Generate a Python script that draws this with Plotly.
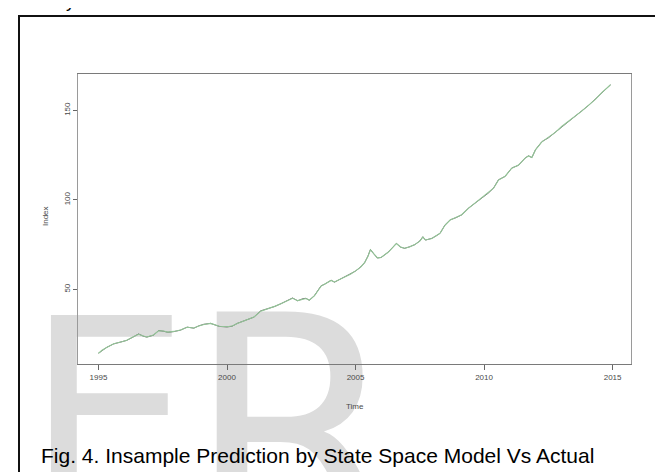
import plotly.graph_objects as go

# ---- data (decimal year, index value) ----
time_years = [
    1995.00, 1995.15, 1995.32, 1995.59, 1995.91, 1996.10, 1996.30, 1996.56, 1996.75, 1996.88,
    1997.14, 1997.34, 1997.53, 1997.70, 1997.93, 1998.19, 1998.45, 1998.71, 1998.90, 1999.10,
    1999.36, 1999.55, 1999.70, 2000.00, 2000.20, 2000.40, 2000.65, 2000.85, 2001.05, 2001.31,
    2001.50, 2001.64, 2001.85, 2002.10, 2002.35, 2002.55, 2002.75, 2002.95, 2003.07, 2003.20,
    2003.40, 2003.53, 2003.66, 2003.79, 2004.05, 2004.18, 2004.35, 2004.57, 2004.80, 2005.00,
    2005.20, 2005.35, 2005.48, 2005.58, 2005.70, 2005.85, 2006.00, 2006.27, 2006.45, 2006.59,
    2006.75, 2006.91, 2007.10, 2007.30, 2007.50, 2007.62, 2007.72, 2007.97, 2008.15, 2008.29,
    2008.48, 2008.68, 2008.90, 2009.13, 2009.39, 2009.65, 2009.90, 2010.17, 2010.37, 2010.56,
    2010.82, 2011.08, 2011.34, 2011.60, 2011.73, 2011.86, 2012.00, 2012.25, 2012.51, 2012.77,
    2013.03, 2013.29, 2013.55, 2013.81, 2014.07, 2014.33, 2014.59, 2014.92,
]
actual_index = [
    14.3, 16.0, 17.6, 19.5, 20.8, 21.5, 23.0, 25.1, 23.8, 23.3,
    24.4, 27.0, 26.6, 26.0, 26.4, 27.2, 28.9, 28.3, 29.6, 30.5,
    31.0, 30.2, 29.3, 29.0, 29.4, 31.0, 32.5, 33.6, 34.5, 38.0,
    38.8, 39.6, 40.4, 42.0, 43.8, 45.2, 43.6, 44.8, 45.0, 43.9,
    46.5, 49.0, 52.0, 52.8, 55.1, 54.0, 55.3, 56.8, 58.5, 60.2,
    62.5, 64.8, 68.5, 72.3, 70.0, 67.5, 67.8, 70.8, 73.5, 75.7,
    73.6, 72.9, 73.8, 74.9, 77.0, 79.4, 77.5, 78.5, 80.0, 81.3,
    86.0, 88.8, 90.0, 91.6, 95.3, 98.1, 100.8, 103.8, 106.6, 111.2,
    113.1, 117.8, 119.3, 123.4, 124.6, 123.6, 128.0, 132.5, 134.7, 137.8,
    141.0, 144.0, 146.9, 149.8, 152.8, 156.2, 159.9, 164.3,
]
predicted_index = [
    14.3, 16.1, 17.5, 19.6, 20.7, 21.6, 23.1, 24.9, 23.9, 23.4,
    24.5, 26.8, 26.7, 26.1, 26.5, 27.3, 28.8, 28.4, 29.5, 30.4,
    31.0, 30.3, 29.4, 29.1, 29.5, 30.9, 32.4, 33.5, 34.6, 37.8,
    38.9, 39.5, 40.5, 41.9, 43.7, 45.0, 43.7, 44.7, 44.9, 44.0,
    46.4, 49.1, 51.8, 52.9, 55.0, 54.1, 55.2, 56.9, 58.4, 60.3,
    62.4, 64.9, 68.3, 72.1, 70.1, 67.6, 67.9, 70.7, 73.4, 75.6,
    73.7, 73.0, 73.7, 75.0, 76.9, 79.2, 77.6, 78.4, 80.1, 81.4,
    85.8, 88.7, 90.1, 91.7, 95.2, 98.2, 100.7, 103.9, 106.5, 111.0,
    113.2, 117.7, 119.4, 123.3, 124.5, 123.7, 127.9, 132.4, 134.8, 137.7,
    141.1, 143.9, 147.0, 149.7, 152.9, 156.1, 160.0, 164.3,
]
x_tick_values = [1995, 2000, 2005, 2010, 2015]
x_tick_labels = ["1995", "2000", "2005", "2010", "2015"]
y_tick_values = [50, 100, 150]
y_tick_labels = ["50", "100", "150"]

caption_text = "Fig. 4. Insample Prediction by State Space Model Vs Actual"
watermark_letters = ["E", "R"]

W, H = 663, 472

def px_x(p):
    return p / W

def px_y(p):
    return (H - p) / H

# R-style 4% padding of the axis ranges
def padded(vals):
    lo, hi = min(vals), max(vals)
    pad = 0.04 * (hi - lo)
    return [lo - pad, hi + pad]

all_y = actual_index + predicted_index

fig = go.Figure()

# background watermark on a full-page axis (drawn first, under the chart)
fig.add_trace(go.Scatter(
    x=[100], y=[432.5], mode="text", text=[watermark_letters[0]],
    textposition="middle center",
    textfont=dict(family="DejaVu Sans", size=262, color="#dcdcdc"),
    xaxis="x", yaxis="y", hoverinfo="skip", showlegend=False, cliponaxis=True,
))
fig.add_trace(go.Scatter(
    x=[286], y=[452], mode="text", text=[watermark_letters[1]],
    textposition="middle center",
    textfont=dict(family="DejaVu Sans", size=310, color="#dcdcdc"),
    xaxis="x", yaxis="y", hoverinfo="skip", showlegend=False, cliponaxis=True,
))

fig.add_trace(go.Scatter(
    x=time_years, y=actual_index, mode="lines", name="Actual",
    line=dict(color="#3a3a3a", width=0.7), xaxis="x2", yaxis="y2", showlegend=False,
))
fig.add_trace(go.Scatter(
    x=time_years, y=predicted_index, mode="lines", name="Predicted",
    line=dict(color="#93c497", width=1.1), xaxis="x2", yaxis="y2", showlegend=False,
))

axis_font = dict(family="Liberation Sans, Arial, sans-serif", size=8, color="#4a4a4a")

fig.update_layout(
    width=W, height=H,
    margin=dict(l=0, r=0, t=0, b=0),
    paper_bgcolor="white",
    plot_bgcolor="rgba(0,0,0,0)",
    showlegend=False,
    xaxis=dict(domain=[0, 1], range=[0, W], visible=False, fixedrange=True),
    yaxis=dict(domain=[0, 1], range=[H, 0], visible=False, fixedrange=True),
    xaxis2=dict(
        domain=[px_x(70), px_x(623)], anchor="y2",
        range=padded(time_years),
        tickmode="array", tickvals=x_tick_values, ticktext=x_tick_labels,
        ticks="outside", ticklen=5, tickcolor="#666666", tickwidth=1,
        showline=True, linecolor="#7a7a7a", linewidth=1, mirror=True,
        showgrid=False, zeroline=False, tickfont=axis_font,
    ),
    yaxis2=dict(
        domain=[px_y(356), px_y(66)], anchor="x2",
        range=padded(all_y),
        tickmode="array", tickvals=y_tick_values, ticktext=y_tick_labels,
        ticks="outside", ticklen=4, tickcolor="#666666", tickwidth=1,
        tickangle=-90,
        showline=True, linecolor="#9a9a9a", linewidth=1, mirror=True,
        showgrid=False, zeroline=False, tickfont=axis_font,
    ),
    annotations=[
        dict(text="Time", x=px_x(347), y=px_y(398), xref="paper", yref="paper",
             xanchor="center", yanchor="middle", showarrow=False, font=axis_font),
        dict(text="Index", x=px_x(37), y=px_y(208), xref="paper", yref="paper",
             xanchor="center", yanchor="middle", textangle=-90, showarrow=False, font=axis_font),
        dict(text=caption_text, x=px_x(31), y=px_y(447), xref="paper", yref="paper",
             xanchor="left", yanchor="middle", showarrow=False,
             font=dict(family="Liberation Sans, Arial, sans-serif", size=21, color="#000000")),
        dict(text="ly", x=px_x(52), y=px_y(-7), xref="paper", yref="paper",
             xanchor="left", yanchor="middle", showarrow=False,
             font=dict(family="Liberation Sans, Arial, sans-serif", size=18, color="#000000")),
    ],
    shapes=[
        dict(type="rect", xref="paper", yref="paper",
             x0=px_x(11), x1=px_x(661), y0=px_y(490), y1=px_y(8),
             line=dict(color="#111111", width=2), fillcolor="rgba(0,0,0,0)", layer="above"),
    ],
)

fig.write_html("out.html")
